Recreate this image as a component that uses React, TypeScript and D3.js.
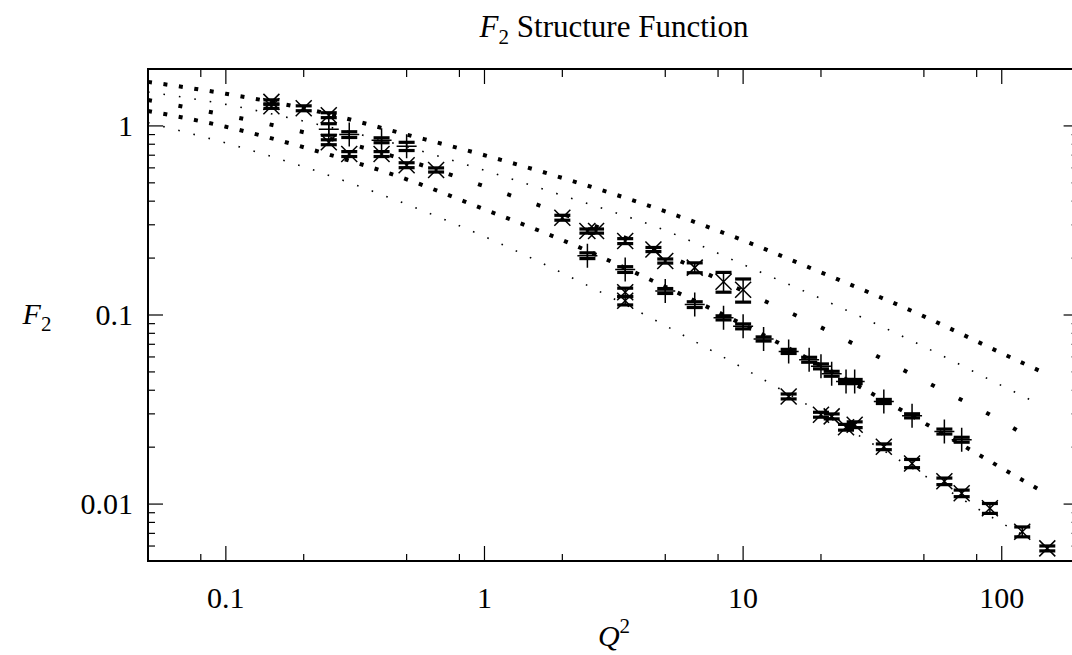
import React from "react";
import * as d3 from "d3";

const curveQ = [0.05, 0.1, 0.2, 0.5, 1, 2, 5, 10, 20, 50, 100, 140];
const curveQLow = [0.05, 0.1, 0.2, 0.5, 1, 2, 5, 10, 20, 50, 100, 131];
const curveA = [1.71, 1.48, 1.24, 0.9, 0.7, 0.531, 0.353, 0.248, 0.168, 0.0984, 0.0628, 0.0507];
const curveB = [1.51, 1.3, 1.06, 0.776, 0.582, 0.429, 0.28, 0.185, 0.122, 0.068, 0.0423, 0.0337];
const curveC = [1.37, 1.14, 0.926, 0.658, 0.479, 0.343, 0.209, 0.134, 0.086, 0.0449, 0.0274, 0.0208];
const curveD = [1.2, 0.99, 0.771, 0.522, 0.362, 0.249, 0.141, 0.089, 0.054, 0.0269, 0.0155, 0.0119];
const curveE = [1.04, 0.812, 0.608, 0.385, 0.26, 0.1667, 0.0879, 0.0524, 0.0304, 0.0142, 0.00794, 0.00645];

// data with "x" markers
const crossQ = [0.15, 0.15, 0.2, 0.25, 0.25, 0.3, 0.4, 0.5, 0.65, 2, 2.5, 2.7, 3.5, 3.5, 3.5, 4.5, 5, 6.5, 8.4, 10, 15, 20, 22, 25, 27, 35, 45, 60, 70, 90, 120, 150];
const crossF = [1.34, 1.27, 1.24, 1.14, 0.82, 0.71, 0.71, 0.62, 0.585, 0.327, 0.278, 0.278, 0.246, 0.132, 0.119, 0.222, 0.193, 0.178, 0.15, 0.136, 0.0371, 0.0297, 0.0291, 0.0255, 0.0263, 0.0201, 0.0164, 0.0132, 0.0114, 0.0095, 0.00714, 0.00583];
const crossErr = [0.025, 0.025, 0.03, 0.03, 0.03, 0.03, 0.03, 0.03, 0.025, 0.03, 0.025, 0.025, 0.03, 0.05, 0.05, 0.025, 0.025, 0.06, 0.12, 0.14, 0.03, 0.03, 0.03, 0.035, 0.035, 0.035, 0.05, 0.04, 0.04, 0.06, 0.06, 0.03];

// data with "+" markers
const plusQ = [0.25, 0.3, 0.4, 0.5, 2.5, 3.5, 5, 6.5, 8.4, 10, 12, 15, 18, 20, 22, 25, 27, 35, 45, 60, 70];
const plusF = [0.96, 0.9, 0.84, 0.78, 0.206, 0.174, 0.134, 0.1135, 0.0966, 0.0871, 0.0747, 0.0642, 0.058, 0.0535, 0.0489, 0.0445, 0.0445, 0.0349, 0.0293, 0.0242, 0.0219];
const plusErr = [0.07, 0.035, 0.03, 0.05, 0.035, 0.035, 0.03, 0.035, 0.025, 0.03, 0.025, 0.025, 0.03, 0.03, 0.03, 0.025, 0.025, 0.025, 0.025, 0.03, 0.03];

const xMajor = [0.1, 1, 10, 100];
const xMinor = [0.08, 0.2, 0.5, 0.8, 2, 5, 8, 20, 50, 80];
const xLabels = ["0.1", "1", "10", "100"];
const yMajor = [0.01, 0.1, 1];
const yLabels = ["0.01", "0.1", "1"];

const font = "'Liberation Serif', 'DejaVu Serif', serif";

export default function App() {
  const W = 1072;
  const H = 655;
  const left = 148, right = 1079.6, top = 69, bottom = 561;

  const x = d3.scaleLog().domain([0.05, 200]).range([left, right]);
  const y = d3.scaleLog().domain([0.005, 2]).range([bottom, top]);

  const yMinor = y.ticks().filter((t) => !yMajor.some((m) => Math.abs(m - t) < 1e-9));

  const makeLine = (qs: number[]) =>
    d3
      .line<number>()
      .x((_, i) => x(qs[i]))
      .y((d) => y(d))
      .curve(d3.curveMonotoneX);

  const curves = [
    { q: curveQ, v: curveA, w: 4, dash: "4 11.6" },
    { q: curveQ, v: curveB, w: 1.6, dash: "1.6 14" },
    { q: curveQ, v: curveC, w: 4, dash: "4 27" },
    { q: curveQ, v: curveD, w: 4, dash: "4 11.6" },
    { q: curveQLow, v: curveE, w: 1.6, dash: "1.6 14" },
  ];

  const errBar = (q: number, f: number, e: number, key: string) => {
    const cx = x(q);
    const y1 = y(f * (1 + e));
    const y2 = y(f * (1 - e));
    return (
      <g key={key} stroke="#000" fill="none">
        <line x1={cx} x2={cx} y1={y1} y2={y2} strokeWidth={1.5} />
        <line x1={cx - 8} x2={cx + 8} y1={y1} y2={y1} strokeWidth={3.2} />
        <line x1={cx - 8} x2={cx + 8} y1={y2} y2={y2} strokeWidth={3.2} />
      </g>
    );
  };

  return (
    <svg
      width={W}
      height={H}
      style={{ position: "absolute", left: 0, top: 0, background: "#fff" }}
      fontFamily={font}
    >
      <rect width={W} height={H} fill="#fff" />

      {/* title */}
      <text x={614} y={37} textAnchor="middle" fontSize={31} fill="#000">
        <tspan fontStyle="italic">F</tspan>
        <tspan fontSize={21} dy={7}>2</tspan>
        <tspan dy={-7}> Structure Function</tspan>
      </text>

      {/* theory curves */}
      {curves.map((c, i) => (
        <path
          key={"c" + i}
          d={makeLine(c.q)(c.v) || ""}
          fill="none"
          stroke="#000"
          strokeWidth={c.w}
          strokeDasharray={c.dash}
        />
      ))}

      {/* data: x markers */}
      {crossQ.map((q, i) => {
        const cx = x(q);
        const cy = y(crossF[i]);
        return (
          <g key={"x" + i}>
            {errBar(q, crossF[i], crossErr[i], "xe" + i)}
            <path
              d={`M${cx - 8},${cy - 8}L${cx + 8},${cy + 8}M${cx - 8},${cy + 8}L${cx + 8},${cy - 8}`}
              stroke="#000"
              strokeWidth={1.5}
              fill="none"
            />
          </g>
        );
      })}

      {/* data: + markers */}
      {plusQ.map((q, i) => {
        const cx = x(q);
        const cy = y(plusF[i]);
        return (
          <g key={"p" + i}>
            {errBar(q, plusF[i], plusErr[i], "pe" + i)}
            <path
              d={`M${cx},${cy - 12}V${cy + 12}M${cx - 10},${cy}H${cx + 10}`}
              stroke="#000"
              strokeWidth={1.5}
              fill="none"
            />
          </g>
        );
      })}

      {/* ticks, mirrored on all sides */}
      <g stroke="#000" strokeWidth={1.2}>
        {xMajor.map((t) => (
          <g key={"xM" + t}>
            <line x1={x(t)} x2={x(t)} y1={bottom} y2={bottom - 15} />
            <line x1={x(t)} x2={x(t)} y1={top} y2={top + 15} />
          </g>
        ))}
        {xMinor.map((t) => (
          <g key={"xm" + t}>
            <line x1={x(t)} x2={x(t)} y1={bottom} y2={bottom - 7} />
            <line x1={x(t)} x2={x(t)} y1={top} y2={top + 8} />
          </g>
        ))}
        {yMajor.map((t) => (
          <g key={"yM" + t}>
            <line x1={left} x2={left + 15} y1={y(t)} y2={y(t)} />
            <line x1={right} x2={right - 16} y1={y(t)} y2={y(t)} />
          </g>
        ))}
        {yMinor.map((t) => (
          <g key={"ym" + t}>
            <line x1={left} x2={left + 7} y1={y(t)} y2={y(t)} />
            <line x1={right} x2={right - 8} y1={y(t)} y2={y(t)} />
          </g>
        ))}
      </g>

      {/* frame */}
      <rect
        x={left}
        y={top}
        width={right - left}
        height={bottom - top}
        fill="none"
        stroke="#000"
        strokeWidth={2}
      />

      {/* tick labels */}
      {xMajor.map((t, i) => (
        <text key={"xl" + t} x={x(t)} y={608} textAnchor="middle" fontSize={30} fill="#000">
          {xLabels[i]}
        </text>
      ))}
      {yMajor.map((t, i) => (
        <text key={"yl" + t} x={133} y={y(t) + 10} textAnchor="end" fontSize={30} fill="#000">
          {yLabels[i]}
        </text>
      ))}

      {/* axis labels */}
      <text x={37} y={324} textAnchor="middle" fontSize={30} fill="#000">
        <tspan fontStyle="italic">F</tspan>
        <tspan fontSize={21} dy={7}>2</tspan>
      </text>
      <text x={614} y={646} textAnchor="middle" fontSize={30} fill="#000">
        <tspan fontStyle="italic">Q</tspan>
        <tspan fontSize={21} dy={-13}>2</tspan>
      </text>
    </svg>
  );
}
